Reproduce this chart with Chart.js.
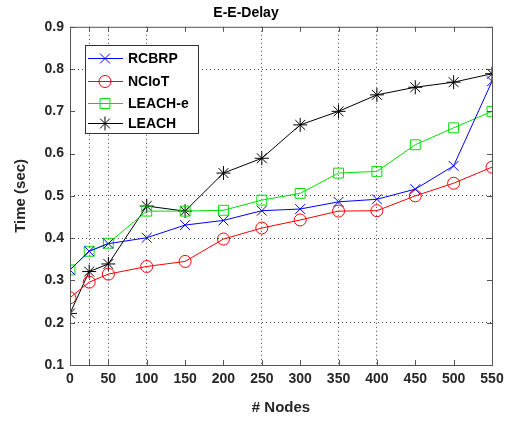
<!DOCTYPE html>
<html>
<head>
<meta charset="utf-8">
<script src="https://cdn.jsdelivr.net/npm/chart.js@4.4.0/dist/chart.umd.min.js"></script>
<style>
  html, body { margin: 0; padding: 0; background: #fff; }
  #wrap { width: 510px; height: 421px; }
</style>
</head>
<body>
<div id="wrap"><canvas id="delay-chart"></canvas></div>
<script>
// node counts on the x axis
const nodes = [0, 25, 50, 100, 150, 200, 250, 300, 350, 400, 450, 500, 550];

// end-to-end delay per protocol (sec)
const rcbrp  = [0.325, 0.369, 0.387, 0.401, 0.431, 0.442, 0.465, 0.469, 0.486, 0.492, 0.516, 0.571, 0.771];
const nciot  = [0.259, 0.296, 0.315, 0.333, 0.345, 0.398, 0.424, 0.443, 0.464, 0.465, 0.500, 0.530, 0.568];
const leachE = [0.325, 0.369, 0.388, 0.464, 0.464, 0.466, 0.490, 0.506, 0.554, 0.558, 0.621, 0.661, 0.700];
const leach  = [0.222, 0.321, 0.339, 0.476, 0.464, 0.554, 0.589, 0.668, 0.700, 0.739, 0.757, 0.769, 0.789];

const seriesNames = ['RCBRP', 'NCIoT', 'LEACH-e', 'LEACH'];
const yTicks = [0.1, 0.2, 0.3, 0.4, 0.5, 0.6, 0.7, 0.8, 0.9];

// the MATLAB export only kept some of the dotted grid lines
const xGridOn = [25, 50, 100, 250, 350, 400];
const yGridOn = [0.2, 0.4, 0.5, 0.8];

const tickFont = { family: "'Liberation Sans', Arial, sans-serif", size: 14, weight: 'bold' };
const TEXT = '#262626';

function pts(ys) {
    return ys.map((y, i) => ({ x: nodes[i], y }));
}

// box, inner tick marks and the legend drawn inside the axes
const matlabBox = {
    id: 'matlabBox',
    afterDraw(chart) {
        const { ctx, chartArea: a, scales } = chart;
        ctx.save();
        ctx.strokeStyle = '#555';
        ctx.lineWidth = 1;
        ctx.setLineDash([]);
        ctx.strokeRect(a.left + 0.5, a.top + 0.5, a.right - a.left, a.bottom - a.top);

        ctx.beginPath();
        scales.x.ticks.forEach((t) => {
            const px = Math.round(scales.x.getPixelForValue(t.value)) + 0.5;
            ctx.moveTo(px, a.bottom); ctx.lineTo(px, a.bottom - 5);
            ctx.moveTo(px, a.top); ctx.lineTo(px, a.top + 5);
        });
        scales.y.ticks.forEach((t) => {
            const py = Math.round(scales.y.getPixelForValue(t.value)) + 0.5;
            ctx.moveTo(a.left, py); ctx.lineTo(a.left + 5, py);
            ctx.moveTo(a.right, py); ctx.lineTo(a.right - 5, py);
        });
        ctx.stroke();

        // legend
        const lx = 85, ly = 45, lw = 113, lh = 88;
        ctx.fillStyle = '#fff';
        ctx.fillRect(lx, ly, lw, lh);
        ctx.strokeStyle = '#333';
        ctx.strokeRect(lx + 0.5, ly + 0.5, lw, lh);
        const rows = [58, 81, 103, 123];
        chart.data.datasets.forEach((ds, i) => {
            const y = rows[i] + 0.5;
            ctx.strokeStyle = ds.borderColor;
            ctx.lineWidth = 1;
            ctx.beginPath();
            ctx.moveTo(88, y); ctx.lineTo(123, y);
            ctx.stroke();
            ctx.fillStyle = 'rgba(0,0,0,0)';
            Chart.helpers.drawPoint(ctx, {
                pointStyle: ds.pointStyle,
                radius: ds.pointRadius,
                borderWidth: 1,
            }, 105, y);
            ctx.fillStyle = '#000';
            ctx.font = "bold 14px 'Liberation Sans', Arial, sans-serif";
            ctx.textBaseline = 'middle';
            ctx.fillText(seriesNames[i], 128, y + 1);
        });
        ctx.restore();
    },
};

function makeSet(label, ys, color, style, radius) {
    return {
        label,
        data: pts(ys),
        borderColor: color,
        backgroundColor: 'transparent',
        borderWidth: 1,
        pointStyle: style,
        pointRadius: radius,
        pointBorderColor: color,
        pointBackgroundColor: 'transparent',
        pointBorderWidth: 1,
        tension: 0,
    };
}

new Chart(document.getElementById('delay-chart'), {
    type: 'line',
    data: {
        datasets: [
            makeSet(seriesNames[0], rcbrp, '#0000ff', 'crossRot', 7),
            makeSet(seriesNames[1], nciot, '#ff0000', 'circle', 6),
            makeSet(seriesNames[2], leachE, '#00e000', 'rect', 7),
            makeSet(seriesNames[3], leach, '#000000', 'star', 7),
        ],
    },
    options: {
        responsive: true,
        maintainAspectRatio: false,
        animation: false,
        layout: { padding: { top: 0, right: 18, left: 0, bottom: 0 } },
        plugins: {
            legend: { display: false },
            tooltip: { enabled: false },
            title: {
                display: true,
                text: 'E-E-Delay',
                color: '#000',
                font: { family: tickFont.family, size: 14, weight: 'bold' },
                padding: { top: 5, bottom: 5 },
            },
        },
        scales: {
            x: {
                type: 'linear',
                min: 0,
                max: 550,
                afterBuildTicks: (scale) => {
                    const ticks = [];
                    for (let v = 0; v <= 550; v += 50) ticks.push({ value: v });
                    ticks.splice(1, 0, { value: 25 });
                    scale.ticks = ticks;
                },
                afterFit: (scale) => { scale.height = 56; },
                ticks: {
                    color: TEXT,
                    font: tickFont,
                    padding: 6,
                    maxRotation: 0,
                    autoSkip: false,
                    callback: (v) => (v === 25 ? '' : String(v)),
                },
                grid: {
                    drawTicks: false,
                    color: (c) => (c.tick && xGridOn.includes(c.tick.value) ? '#444' : 'transparent'),
                },
                border: { display: false, dash: [1, 3] },
                title: {
                    display: true,
                    text: '# Nodes',
                    color: TEXT,
                    font: { family: tickFont.family, size: 15, weight: 'bold' },
                    padding: { top: 4 },
                },
            },
            y: {
                min: 0.1,
                max: 0.9,
                afterBuildTicks: (scale) => {
                    scale.ticks = yTicks.map((v) => ({ value: v }));
                },
                afterFit: (scale) => { scale.width = 70; },
                ticks: {
                    color: TEXT,
                    font: tickFont,
                    padding: 6,
                    callback: (v) => v.toFixed(1),
                },
                grid: {
                    drawTicks: false,
                    color: (c) => (c.tick && yGridOn.some((g) => Math.abs(g - c.tick.value) < 1e-6) ? '#444' : 'transparent'),
                },
                border: { display: false, dash: [1, 3] },
                title: {
                    display: true,
                    text: 'Time (sec)',
                    color: TEXT,
                    font: { family: tickFont.family, size: 15, weight: 'bold' },
                    padding: { top: 12, bottom: 2 },
                },
            },
        },
    },
    plugins: [matlabBox],
});
</script>
</body>
</html>
